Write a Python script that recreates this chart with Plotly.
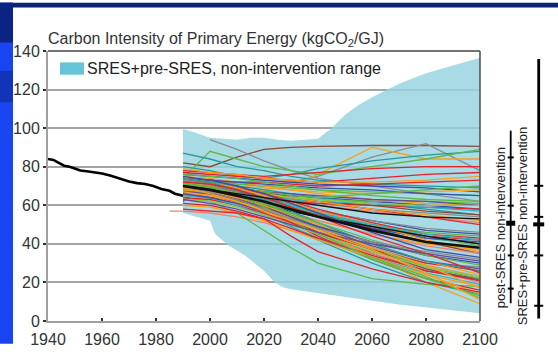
import plotly.graph_objects as go

# ---------------- data ----------------
HIST_YEARS = [1940, 1942, 1944, 1946, 1948, 1950, 1952, 1955, 1958, 1960, 1963, 1966,
              1968, 1970, 1973, 1976, 1979, 1982, 1985, 1987, 1990]
HIST_VALUES = [84, 83.5, 82, 80.5, 80, 79, 78, 77.5, 77, 76.5, 75.5, 74,
               73, 72.3, 71.5, 71, 70, 68.5, 67.5, 66, 65]

RANGE_UP_YEARS = [1990, 1995, 2000, 2005, 2010, 2015, 2020, 2025, 2030, 2035, 2040,
                  2045, 2050, 2055, 2060, 2070, 2080, 2090, 2100]
RANGE_UP_VALUES = [99.5, 97.5, 95, 94.5, 94, 95, 95, 94, 93.5, 94, 94.5,
                   100, 107, 112, 116, 123, 128.5, 132.5, 136.5]
RANGE_LO_YEARS = [1990, 2000, 2002, 2007, 2013, 2020, 2024, 2027, 2030, 2040,
                  2050, 2060, 2070, 2080, 2090, 2100]
RANGE_LO_VALUES = [56, 52, 45, 39, 34, 26, 20, 17.5, 16.5, 14.5,
                   12.5, 10.5, 8.5, 7, 5.5, 4]

SCEN_YEARS = [1990, 2000, 2010, 2020, 2030, 2040, 2060, 2080, 2100]
SCEN_VALUES = [
    [82, 80, 85, 89, 90, 90.5, 91, 91, 90.5],
    [None, 94, 89, 83, 78, 74, 70, 66, 62],
    [75, 73, 71, 70, 72, 75, 85, 92, 78],
    [70, 68, 67, 68, 70, 76, 90, 84, 84],
    [80, 78, 75, 74, 76, 79, 83, 86, 88],
    [74, 88, 84, 80, 78, 76, 80, 84, 89],
    [87, 84, 80, 78, 75, 73, 71, 70, 69],
    [78, 77, 76, 75, 76, 77, 79, 80, 80],
    [76, 75, 74, 73, 72, 71, 70, 69, 67],
    [72, 72, 71, 70, 69, 68, 67, 66, 65],
    [74, 73, 72, 72, 71, 70, 71, 72, 73],
    [72, 71, 70, 69, 68, 67, 66, 67, 68],
    [62, 74, 67, 66, 65, 64, 62, 60, 58],
    [73, 72, 70, 68, 66, 64, 61, 58, 55],
    [71, 70, 68, 66, 63, 61, 58, 56, 54],
    [69, 68, 67, 66, 64, 63, 62, 62, 61],
    [68, 66, 64, 63, 62, 61, 60, 59, 58],
    [75, 74, 72, 70, 68, 66, 63, 61, 60],
    [73, 71, 69, 67, 64, 62, 60, 57, 55],
    [70, 69, 68, 67, 66, 65, 63, 62, 60],
    [66, 66, 65, 64, 63, 62, 61, 59, 57],
    [74, 73, 72, 71, 70, 69, 68, 66, 65],
    [67, 66, 65, 64, 62, 60, 57, 54, 51],
    [76, 75, 74, 72, 70, 68, 65, 63, 62],
    [71, 70, 68, 66, 64, 62, 58, 54, 50],
    [69, 68, 67, 66, 64, 62, 58, 55, 52],
    [72, 70, 68, 66, 64, 63, 61, 60, 60],
    [77, 76, 75, 74, 73, 72, 74, 76, 77],
    [79, 77, 76, 74, 73, 72, 72, 73, 75],
    [72, 71, 69, 67, 65, 64, 66, 68, 70],
    [72, 70, 67, 64, 60, 57, 52, 47, 45],
    [68, 66, 63, 60, 57, 54, 48, 44, 42],
    [70, 68, 65, 62, 58, 55, 50, 46, 44],
    [66, 65, 63, 60, 56, 52, 45, 40, 37],
    [73, 71, 68, 64, 60, 56, 49, 43, 40],
    [71, 69, 66, 63, 60, 57, 52, 48, 46],
    [67, 66, 64, 62, 59, 55, 48, 41, 35],
    [74, 72, 69, 65, 61, 57, 50, 44, 40],
    [69, 67, 64, 60, 56, 52, 45, 39, 35],
    [72, 71, 69, 66, 62, 58, 51, 45, 43],
    [68, 67, 65, 62, 59, 56, 50, 44, 39],
    [65, 64, 62, 60, 57, 54, 48, 43, 41],
    [74, 72, 69, 65, 61, 57, 50, 42, 36],
    [70, 68, 66, 63, 60, 56, 50, 45, 42],
    [66, 64, 62, 60, 57, 54, 49, 44, 40],
    [65, 64, 61, 57, 52, 46, 34, 20, 9],
    [64, 62, 56, 47, 38, 30, 22, 19, 18],
    [68, 66, 62, 56, 49, 42, 30, 20, 14],
    [70, 68, 64, 58, 51, 44, 32, 22, 16],
    [66, 64, 60, 55, 49, 43, 32, 22, 13],
    [72, 70, 66, 60, 53, 46, 34, 24, 18],
    [69, 67, 63, 58, 52, 46, 35, 26, 22],
    [73, 71, 67, 62, 56, 50, 38, 30, 28],
    [66, 65, 61, 56, 50, 45, 35, 27, 20],
    [64, 63, 60, 56, 51, 46, 37, 30, 26],
    [70, 69, 65, 60, 54, 48, 37, 27, 21],
    [68, 67, 64, 60, 55, 50, 40, 31, 24],
    [71, 70, 66, 61, 55, 49, 38, 28, 22],
    [67, 66, 63, 59, 54, 49, 39, 31, 27],
    [65, 64, 60, 55, 49, 43, 33, 25, 19],
    [63, 62, 59, 55, 50, 45, 36, 28, 23],
    [61, 60, 57, 53, 48, 43, 34, 26, 21],
    [74, 72, 68, 63, 57, 51, 40, 31, 26],
    [60, 59, 56, 52, 47, 42, 33, 24, 14],
    [66, 64, 61, 57, 53, 49, 41, 34, 30],
    [69, 68, 65, 61, 56, 51, 42, 34, 29],
    [58, 57, 56, 53, 44, 36, 27, 20, 15],
    [71, 69, 65, 59, 52, 45, 33, 23, 12],
    [67, 65, 62, 58, 53, 48, 38, 29, 17],
    [75, 73, 70, 66, 61, 56, 46, 37, 33],
    [63, 61, 58, 54, 50, 46, 40, 35, 31],
    [70, 67, 63, 58, 53, 48, 41, 36, 32],
    [72, 71, 68, 64, 59, 54, 44, 35, 25],
    [69, 66, 62, 57, 52, 47, 37, 25, 11],
    [70, 68, 66, 64, 62, 60, 56, 54, 53],
    [70, 68, 65, 62, 58, 54, 47, 41, 38],
]
SCEN_COLORS = [
    "brown", "gray", "gray", "orange", "teal", "green", "teal", "red", "blue",
    "green", "red", "orange", "blue", "teal", "gray", "green", "red", "orange",
    "brown", "purple", "cyan", "blue", "salmon", "green", "red", "orange", "lime",
    "red", "orange", "green",
    "blue", "red", "green", "orange", "teal", "gray", "brown", "purple", "salmon",
    "red", "green", "blue", "orange", "cyan", "black",
    "orange", "green", "teal", "red", "green", "orange", "blue", "gray", "salmon",
    "red", "brown", "orange", "green", "purple", "cyan", "lime", "red", "teal",
    "orange", "blue", "green", "red", "green", "orange", "blue", "purple", "gray",
    "red", "orange",
    "black", "black",
]
THICK_BLACK = [75, 76]
EARLY_YEARS = [1985, 1990, 2000, 2010, 2020, 2030, 2040, 2060, 2080, 2100]
EARLY_VALUES = [57, 57, 56, 54, 51, 47, 43, 36, 29, 23]

POST_SRES = {"min": 9.2, "max": 98.7, "ticks": [84.8, 59.8, 34, 16.8], "median": 50.7}
SRES_ALL = {"min": 1.3, "max": 135.9, "ticks": [70.1, 54, 34, 7.9], "median": 50.1}

X_TICKS = [1940, 1960, 1980, 2000, 2020, 2040, 2060, 2080, 2100]
Y_TICKS = [0, 20, 40, 60, 80, 100, 120, 140]

PALETTE = {
    "red": "#e6232a", "orange": "#f8a01c", "green": "#5cb947", "blue": "#3b4ea8",
    "teal": "#27999b", "gray": "#8c8c8c", "brown": "#8b4a3c", "black": "#111111",
    "salmon": "#f3826c", "purple": "#6b4c9c", "lime": "#8fc740", "cyan": "#2fb3c9",
}

# ---------------- layout geometry ----------------
W, H = 558, 360
L, R, T, B = 48, 78, 51, 24
PW, PH = W - L - R, H - T - B
FONT = "Liberation Sans, Arial"


def px_x(px):
    return (px - L) / PW


def px_y(py):
    return (H - B - py) / PH


fig = go.Figure()

# range polygon
fig.add_trace(go.Scatter(
    x=RANGE_UP_YEARS + RANGE_LO_YEARS[::-1],
    y=RANGE_UP_VALUES + RANGE_LO_VALUES[::-1],
    fill="toself", fillcolor="rgba(149,211,224,0.82)",
    line=dict(width=0), mode="lines", hoverinfo="skip",
    name="SRES+pre-SRES, non-intervention range", showlegend=False))

fig.add_trace(go.Scatter(x=EARLY_YEARS, y=EARLY_VALUES, mode="lines",
                         line=dict(color=PALETTE["salmon"], width=1.3),
                         showlegend=False, hoverinfo="skip"))

for i, (vals, cname) in enumerate(zip(SCEN_VALUES, SCEN_COLORS)):
    w = 2.6 if i in THICK_BLACK else 1.3
    fig.add_trace(go.Scatter(x=SCEN_YEARS, y=vals, mode="lines",
                             line=dict(color=PALETTE[cname], width=w),
                             showlegend=False, hoverinfo="skip"))

fig.add_trace(go.Scatter(x=HIST_YEARS, y=HIST_VALUES, mode="lines",
                         line=dict(color="#000000", width=2.6),
                         showlegend=False, hoverinfo="skip"))

shapes = []
# background decorations
shapes.append(dict(type="rect", xref="paper", yref="paper", x0=px_x(0), x1=px_x(W),
                   y0=px_y(5), y1=px_y(0), fillcolor="#0b2278", line=dict(width=0), layer="below"))
shapes.append(dict(type="rect", xref="paper", yref="paper", x0=px_x(0), x1=px_x(13),
                   y0=px_y(H), y1=px_y(0), fillcolor="#1845f0", line=dict(width=0), layer="below"))
shapes.append(dict(type="rect", xref="paper", yref="paper", x0=px_x(0), x1=px_x(13),
                   y0=px_y(42), y1=px_y(0), fillcolor="#0b2382", line=dict(width=0), layer="below"))
shapes.append(dict(type="rect", xref="paper", yref="paper", x0=px_x(0), x1=px_x(13),
                   y0=px_y(105), y1=px_y(72), fillcolor="#1234b8", line=dict(width=0), layer="below"))
# top and right frame
shapes.append(dict(type="line", xref="paper", yref="paper", x0=0, x1=1, y0=1, y1=1,
                   line=dict(color="#444444", width=1.6)))
shapes.append(dict(type="line", xref="paper", yref="paper", x0=1, x1=1, y0=0, y1=1,
                   line=dict(color="#555555", width=1.6)))
# legend swatch
shapes.append(dict(type="rect", xref="paper", yref="paper", x0=px_x(60), x1=px_x(84),
                   y0=px_y(76), y1=px_y(63), fillcolor="#67c4d8", line=dict(width=0)))


def range_bar(xpx, d, lw, tw, mw, mh):
    out = [dict(type="line", xref="paper", yref="y", x0=px_x(xpx), x1=px_x(xpx),
                y0=d["min"], y1=d["max"], line=dict(color="#000000", width=lw))]
    for t in d["ticks"]:
        out.append(dict(type="line", xref="paper", yref="y", x0=px_x(xpx - tw / 2),
                        x1=px_x(xpx + tw / 2), y0=t, y1=t,
                        line=dict(color="#000000", width=2)))
    out.append(dict(type="line", xref="paper", yref="y", x0=px_x(xpx - mw / 2),
                    x1=px_x(xpx + mw / 2), y0=d["median"], y1=d["median"],
                    line=dict(color="#000000", width=mh)))
    return out


shapes += range_bar(510.7, POST_SRES, 1.8, 6, 9, 5)
shapes += range_bar(538.7, SRES_ALL, 2.8, 9, 11, 4)

annotations = [
    dict(text="Carbon Intensity of Primary Energy (kgCO<sub>2</sub>/GJ)", xref="paper", yref="paper",
         x=px_x(46), y=px_y(39), xanchor="left", yanchor="middle", showarrow=False,
         font=dict(family=FONT, size=16, color="#333333")),
    dict(text="SRES+pre-SRES, non-intervention range", xref="paper", yref="paper",
         x=px_x(85), y=px_y(69.5), xanchor="left", yanchor="middle", showarrow=False,
         font=dict(family=FONT, size=16, color="#222222")),
    dict(text="post-SRES non-intervention", xref="paper", yref="paper",
         x=px_x(500.5), y=px_y(237.5), xanchor="center", yanchor="middle", showarrow=False,
         textangle=-90, font=dict(family=FONT, size=13, color="#222222")),
    dict(text="SRES+pre-SRES non-intervention", xref="paper", yref="paper",
         x=px_x(522.5), y=px_y(236.5), xanchor="center", yanchor="middle", showarrow=False,
         textangle=-90, font=dict(family=FONT, size=13, color="#222222")),
]

fig.update_layout(
    width=W, height=H, margin=dict(l=L, r=R, t=T, b=B, pad=0),
    paper_bgcolor="#ffffff", plot_bgcolor="#ffffff",
    showlegend=False, shapes=shapes, annotations=annotations,
    xaxis=dict(range=[1940, 2100], tickvals=X_TICKS, ticktext=[str(v) for v in X_TICKS],
               showgrid=False, zeroline=False, showline=True, linecolor="#a0a0a0",
               linewidth=2, ticks="inside", ticklen=3, tickwidth=1.5, tickcolor="#333333",
               ticklabelstandoff=3,
               tickfont=dict(family=FONT, size=16, color="#333333"),
               fixedrange=True),
    yaxis=dict(range=[0, 140], tickvals=Y_TICKS, ticktext=[str(v) for v in Y_TICKS],
               showgrid=True, gridcolor="#a4a4a4", gridwidth=2, zeroline=False,
               showline=True, linecolor="#a0a0a0", linewidth=2, ticks="outside",
               ticklen=3, tickwidth=2, tickcolor="#333333",
               tickfont=dict(family=FONT, size=16, color="#333333"),
               fixedrange=True),
)

fig.write_html(
    "out.html",
    config={"displayModeBar": False},
    post_script="document.body.style.margin='0';document.body.style.overflow='hidden';",
)
